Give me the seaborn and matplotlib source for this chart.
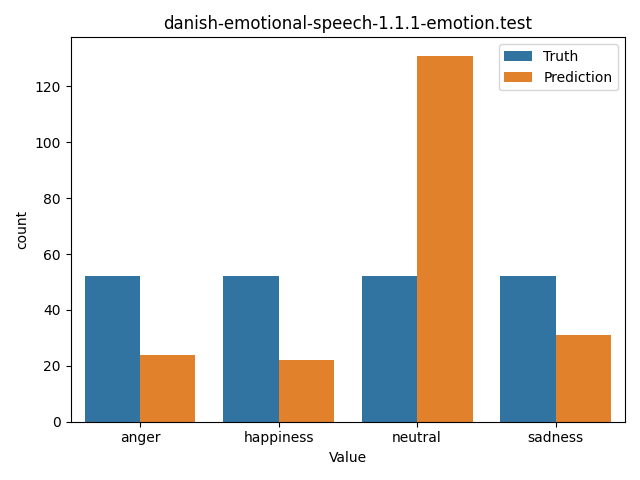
import matplotlib
matplotlib.use("Agg")
import matplotlib.pyplot as plt
import seaborn as sns
import pandas as pd

categories = ["anger", "happiness", "neutral", "sadness"]
truth = [52, 52, 52, 52]
prediction = [24, 22, 131, 31]

df = pd.DataFrame({
    "Value": categories * 2,
    "count": truth + prediction,
    "type": ["Truth"] * 4 + ["Prediction"] * 4,
})

fig, ax = plt.subplots(figsize=(6.4, 4.8), dpi=100)
sns.barplot(data=df, x="Value", y="count", hue="type", ax=ax)
ax.set_title("danish-emotional-speech-1.1.1-emotion.test")
ax.legend(title=None, loc="upper right")
fig.tight_layout()
fig.savefig("out.png")
